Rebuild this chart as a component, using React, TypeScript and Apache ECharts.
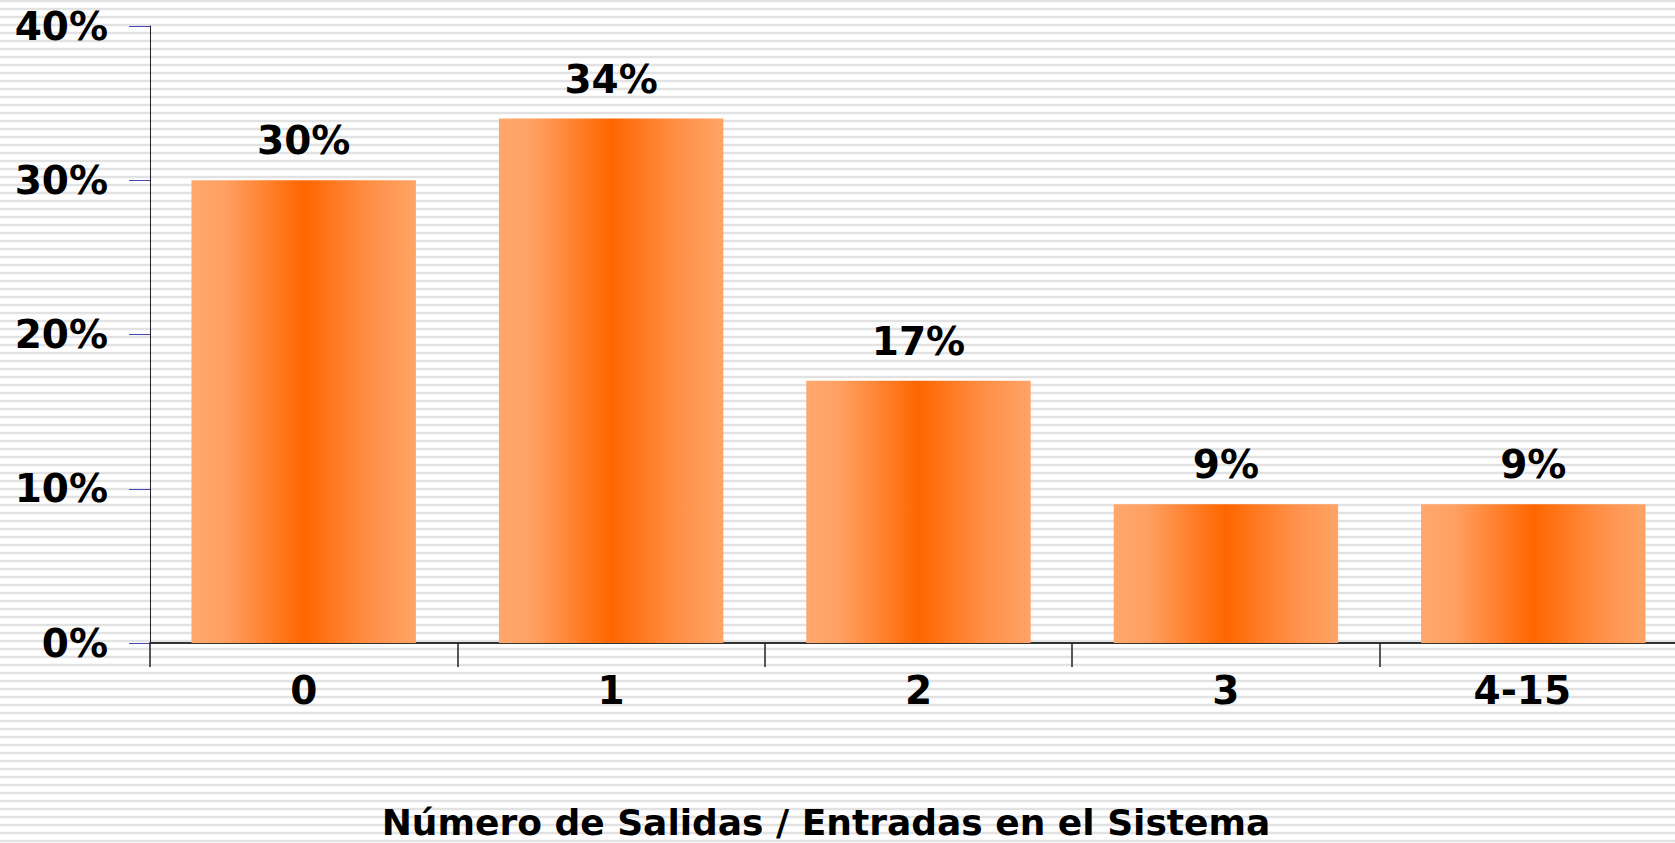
import React, { useEffect, useRef } from "react";
import * as echarts from "echarts";

const categories = ["0", "1", "2", "3", "4-15"];
const values = [30, 34, 17, 9, 9];
const yTicks = [0, 10, 20, 30, 40];
const axisTitle = "Número de Salidas / Entradas en el Sistema";

const FONT = "'DejaVu Sans', Verdana, sans-serif";

export default function App() {
  const ref = useRef<HTMLDivElement>(null);
  useEffect(() => {
    if (!ref.current) return;
    const chart = echarts.init(ref.current, undefined, { renderer: "svg" });
    const barColor = new echarts.graphic.LinearGradient(0, 0, 1, 0, [
      { offset: 0, color: "#FFA86C" },
      { offset: 0.15, color: "#FFA062" },
      { offset: 0.5, color: "#FF6600" },
      { offset: 0.8, color: "#FF9048" },
      { offset: 1, color: "#FFA466" },
    ]);
    chart.setOption({
      animation: false,
      backgroundColor: "transparent",
      graphic: [
        {
          type: "text",
          x: 826,
          y: 822,
          style: {
            text: axisTitle,
            fontFamily: FONT,
            fontWeight: "bold",
            fontSize: 36,
            fill: "#000",
            align: "center",
            verticalAlign: "middle",
          },
        },
      ],
      grid: { left: 150, right: 0, top: 26, bottom: 200, containLabel: false },
      xAxis: {
        type: "category",
        data: categories.map((c, i) =>
          i === categories.length - 1 ? { value: c, textStyle: { padding: [0, 22, 0, 0] } } : c
        ),
        axisLine: { show: true, lineStyle: { color: "#333", width: 2 } },
        axisTick: { show: true, length: 24, alignWithLabel: false, lineStyle: { color: "#222", width: 1.5 } },
        axisLabel: {
          margin: 28,
          fontFamily: FONT,
          fontWeight: "bold",
          fontSize: 39,
          color: "#000",
        },
        splitLine: { show: false },
      },
      yAxis: {
        type: "value",
        min: yTicks[0],
        max: yTicks[yTicks.length - 1],
        interval: 10,
        axisLine: { show: true, lineStyle: { color: "#222", width: 1 } },
        axisTick: { show: true, length: 21, lineStyle: { color: "#4848b0", width: 1 } },
        axisLabel: {
          margin: 42,
          fontFamily: FONT,
          fontWeight: "bold",
          fontSize: 39,
          color: "#000",
          formatter: (v: number) => v + "%",
        },
        splitLine: { show: false },
      },
      series: [
        {
          type: "bar",
          data: values,
          barWidth: "73%",
          itemStyle: { color: barColor },
          label: {
            show: true,
            position: "top",
            distance: 20,
            fontFamily: FONT,
            fontWeight: "bold",
            fontSize: 39,
            color: "#000",
            formatter: (p: any) => p.value + "%",
          },
        },
      ],
    });
    return () => chart.dispose();
  }, []);
  return (
    <div
      ref={ref}
      style={{
        position: "fixed",
        left: 0,
        top: 0,
        width: 1687,
        height: 843,
        background:
          "repeating-linear-gradient(to bottom, #e2e2e2 0px, #e2e2e2 2px, #f2f2f2 2px, #ffffff 3px, #ffffff 7px, #f2f2f2 8px)",
      }}
    />
  );
}
